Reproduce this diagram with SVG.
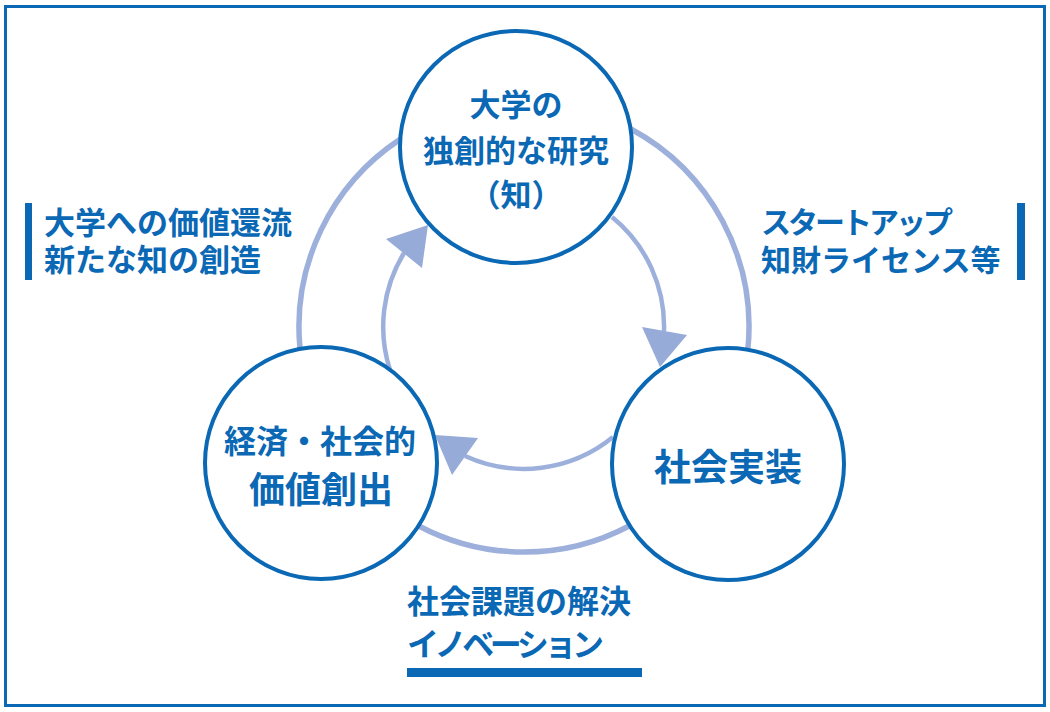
<svg xmlns="http://www.w3.org/2000/svg" width="1050" height="712" viewBox="0 0 1050 712">
<style>
.t{font-family:"Noto Sans CJK JP","Noto Sans",sans-serif;font-weight:700;fill:#0a68b4;}
.tl{font-family:"Liberation Sans","Noto Sans CJK JP",sans-serif;font-weight:700;fill:#0a68b4;}
.node{fill:#ffffff;stroke:#0a68b4;stroke-width:4;}
.outer{fill:none;stroke:#9db0dc;stroke-width:5.5;}
.inner{fill:none;stroke:#9db0dc;stroke-width:4.5;}
.head{fill:#96abd8;}
.bar{fill:#0a68b4;}
</style>
<rect x="5.5" y="6.5" width="1039" height="699" fill="#ffffff" stroke="#0a68b4" stroke-width="3"/>
<g id="connectors">
<path class="outer" d="M300,348.6 A225,225 0 0 1 400,139.4"/>
<path class="outer" d="M630,128.5 A225,225 0 0 1 747.8,350"/>
<path class="outer" d="M629.6,525.7 A225,225 0 0 1 418.4,525.7"/>
<path class="inner" d="M390,370 A141,141 0 0 1 404,253"/>
<polygon class="head" points="428,225 386,239 422,268"/>
<path class="inner" d="M612,217 A141,141 0 0 1 664,331"/>
<polygon class="head" points="660,367 642,327 687,335"/>
<path class="inner" d="M613,437 A141,141 0 0 1 465,456"/>
<polygon class="head" points="435,435 478,438 452,475"/>
</g>
<g id="node-research">
<circle class="node" cx="516" cy="147" r="116"/>
<text class="t" font-size="31" text-anchor="middle"><tspan x="516" y="116">大学の</tspan><tspan x="516" y="162">独創的な研究</tspan><tspan x="516" y="206">（知）</tspan></text>
</g>
<g id="node-implementation">
<circle class="node" cx="728" cy="464" r="116"/>
<text class="t" x="728" y="481" font-size="37" text-anchor="middle">社会実装</text>
</g>
<g id="node-value">
<circle class="node" cx="321" cy="463" r="116"/>
<text class="t" text-anchor="middle"><tspan x="320" y="453" font-size="32">経済・社会的</tspan><tspan x="321" y="503" font-size="36">価値創出</tspan></text>
</g>
<g id="label-left">
<rect class="bar" x="25" y="203" width="7" height="77"/>
<text class="tl" font-size="31"><tspan x="44" y="234">大学への価値還流</tspan><tspan x="44" y="271">新たな知の創造</tspan></text>
</g>
<g id="label-right">
<rect class="bar" x="1017" y="203" width="8" height="77"/>
<text class="tl" font-size="30"><tspan x="761" y="233" textLength="192" lengthAdjust="spacing">スタートアップ</tspan><tspan x="761" y="271">知財ライセンス等</tspan></text>
</g>
<g id="label-bottom">
<text class="t" font-size="32"><tspan x="407" y="613">社会課題の解決</tspan><tspan x="407" y="656" textLength="197" lengthAdjust="spacing">イノベーション</tspan></text>
<rect class="bar" x="407" y="668" width="235" height="9"/>
</g>
</svg>
